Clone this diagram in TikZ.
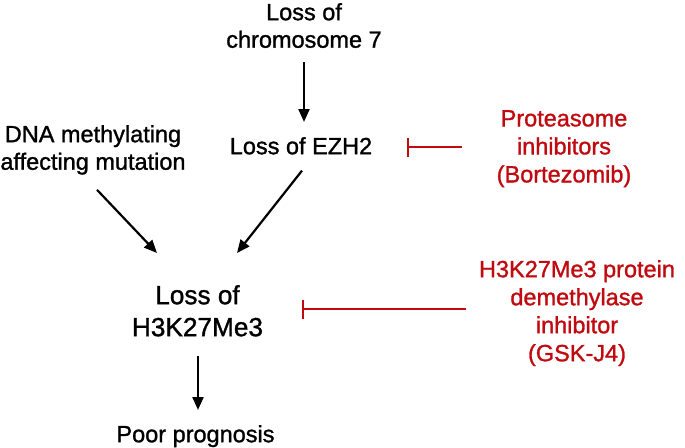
\documentclass[tikz,border=0pt]{standalone}
\usepackage{fontspec}
\setmainfont[FakeBold=1.2]{Liberation Sans}
\usetikzlibrary{arrows.meta,calc}
\definecolor{inhred}{RGB}{192,10,16}
\begin{document}
\begin{tikzpicture}[x=1pt,y=-1pt,
  lbl/.style={inner sep=0pt,align=center,anchor=north,font={\fontsize{23.5}{27.5}\selectfont}},
  biglbl/.style={inner sep=0pt,align=center,anchor=north,font={\fontsize{26.2}{32}\selectfont}},
  redlbl/.style={lbl,text=inhred,font={\fontsize{23.5}{28}\selectfont}},
  arr/.style={line width=2.2pt,-{Triangle[length=13pt,width=11pt]}},
  tee/.style={line width=2pt,draw=inhred,-{Bar[width=19pt,line width=2pt]}}]
\useasboundingbox (0,0) rectangle (685,447);
\node[lbl] (chrom) at (304,3) {Loss of\\chromosome 7};
\node[lbl] (ezh) at (301,137) {Loss of EZH2};
\node[lbl] (dna) at (93,125) {DNA methylating\\affecting mutation};
\node[biglbl] (h3) at (197.5,285) {Loss of\\H3K27Me3};
\node[lbl] (poor) at (195.5,425) {Poor prognosis};
\node[redlbl] (prot) at (564,110) {Proteasome\\inhibitors\\(Bortezomib)};
\node[redlbl] (gsk) at (577,260) {H3K27Me3 protein\\demethylase\\inhibitor\\(GSK-J4)};
\draw[arr] ($(chrom.south)+(0,14)$) -- ($(ezh.north)+(3,-15)$);
\draw[arr] ($(dna.south)+(4,15)$) -- ($(h3.north)+(-40.5,-32)$);
\draw[arr] ($(ezh.south)+(1,16)$) -- ($(h3.north)+(39.5,-32)$);
\draw[arr] ($(h3.south)+(0.5,19)$) -- ($(poor.north)+(2.5,-15)$);
\coordinate (p1) at ($(prot.west)+(-35,-1.5)$);
\coordinate (e1) at ($(ezh.east)+(35,0)$);
\draw[tee] (p1) -- (p1 -| e1);
\coordinate (g1) at ($(gsk.west)+(-13,-4)$);
\coordinate (h1) at ($(h3.east)+(39,0)$);
\draw[tee] (g1) -- (g1 -| h1);
\end{tikzpicture}
\end{document}
